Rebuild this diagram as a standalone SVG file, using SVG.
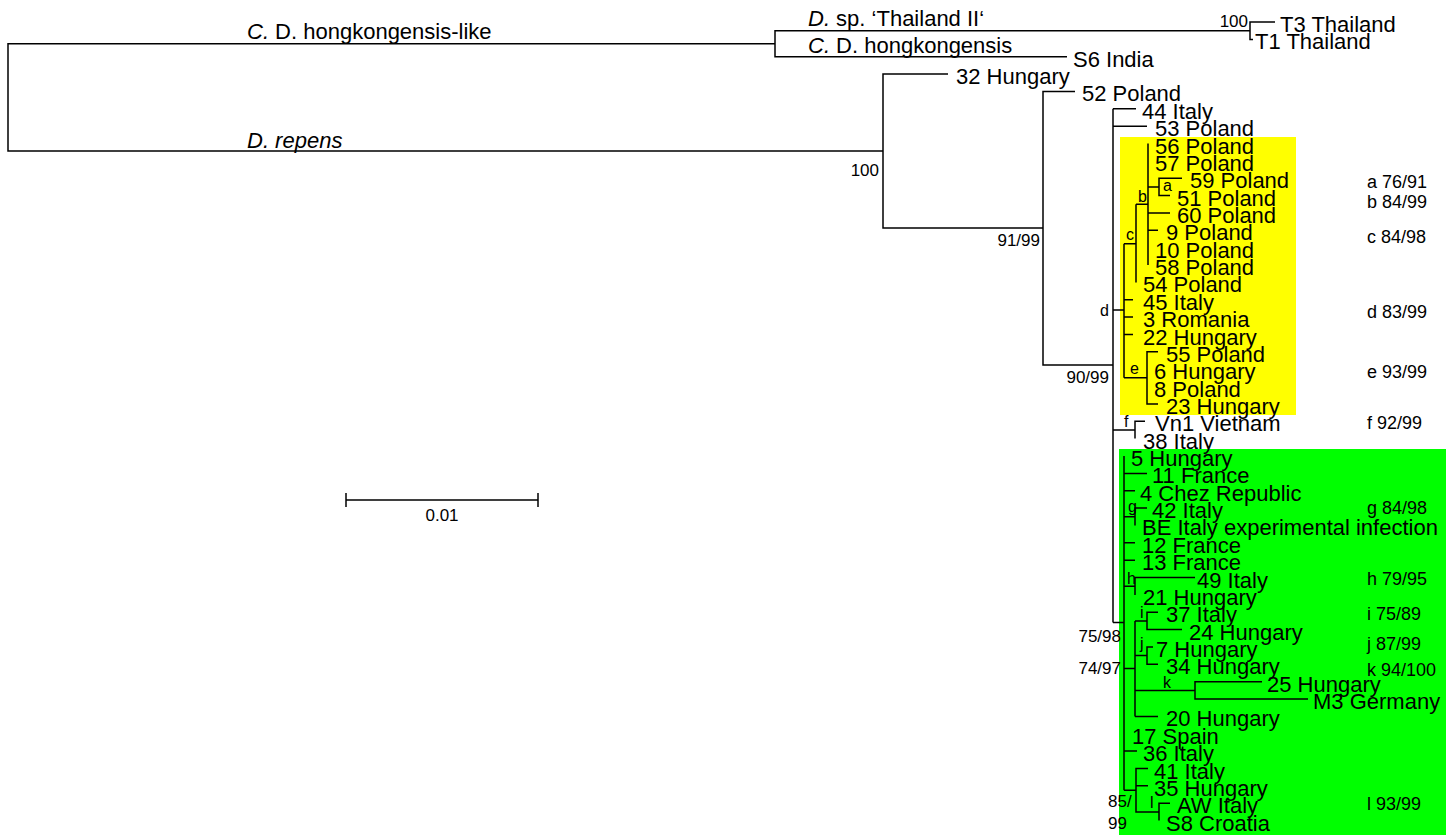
<svg xmlns="http://www.w3.org/2000/svg" width="1452" height="835" viewBox="0 0 1452 835">
<style>
.br{fill:none;stroke:#000;stroke-width:1.5}
text{font-family:"Liberation Sans",Arial,sans-serif;fill:#000}
.lf{font-size:22px}
.bs{font-size:17px}
.nl{font-size:16px}
.rl{font-size:18px}
.it{font-style:italic}
</style>
<rect x="0" y="0" width="1452" height="835" fill="#fff"/>
<g id="highlights">
<rect x="1120" y="137" width="176" height="278" fill="#ffff00"/>
<rect x="1119" y="449" width="327" height="386" fill="#00ff00"/>
</g>
<g id="connectors" class="br">
<path d="M775,43.7 H8 V151 H883"/>
<path d="M1250,30.7 H775 V56.7 H1067"/>
<path d="M1275,22 H1250 V39.4 H1253"/>
<path d="M948,74.1 H883 V228 H1043"/>
<path d="M1075,91.4 H1043 V365 H1113"/>
<path d="M1113,108.8 V622.5 M1113,108.8 H1136 M1113,126.2 H1147 M1113,310 H1124 M1113,430 H1135 M1113,622.5 H1124"/>
<path d="M1124,243.7 V377.8 M1124,243.7 H1136 M1124,299.8 H1133 M1124,317.1 H1133 M1124,334.5 H1133 M1124,377.8 H1147"/>
<path d="M1136,204.3 V282.4 M1136,204.3 H1148"/>
<path d="M1148,143.5 V265 M1148,186.9 H1159 M1148,213 H1170 M1148,230.3 H1158"/>
<path d="M1182,178.2 H1159 V195.6 H1170"/>
<path d="M1158,351.8 H1147 V403.9 H1158"/>
<path d="M1145,421.3 H1135 V438.6"/>
<path d="M1124,456 V790.2 M1124,473.4 H1147 M1124,490.7 H1135 M1124,516.8 H1135 M1124,542.8 H1135 M1124,560.2 H1135 M1124,586.2 H1135 M1124,668.6 H1135 M1124,751.1 H1137 M1124,790.2 H1136"/>
<path d="M1147,508.1 H1135 V525.4"/>
<path d="M1195,577.5 H1135 V594.9"/>
<path d="M1135,620.9 V716.4 M1135,620.9 H1147 M1135,655.6 H1147 M1135,690.4 H1195 M1135,716.4 H1158"/>
<path d="M1158,612.2 H1147 V629.6 H1182"/>
<path d="M1153,647 H1147 V664.3 H1158"/>
<path d="M1262,681.7 H1195 V699 H1308"/>
<path d="M1148,768.5 H1136 V811.9 H1159 M1136,785.8 H1148"/>
<path d="M1170,803.2 H1159 V820.6"/>
</g>
<g id="clade-labels" class="lf">
<text x="247" y="39"><tspan class="it">C.</tspan> D. hongkongensis-like</text>
<text x="247" y="148" class="it">D. repens</text>
<text x="808" y="26"><tspan class="it">D.</tspan> sp. ‘Thailand II‘</text>
<text x="808" y="53"><tspan class="it">C.</tspan> D. hongkongensis</text>
</g>
<g id="n-T3" class="lf"><text x="1280" y="32">T3 Thailand</text></g>
<g id="n-T1" class="lf"><text x="1255" y="49.4">T1 Thailand</text></g>
<g id="n-S6" class="lf"><text x="1073" y="66.7">S6 India</text></g>
<g id="n-32" class="lf"><text x="956" y="84.1">32 Hungary</text></g>
<g id="n-52" class="lf"><text x="1082" y="101.4">52 Poland</text></g>
<g id="n-44" class="lf"><text x="1142" y="118.8">44 Italy</text></g>
<g id="n-53" class="lf"><text x="1155" y="136.2">53 Poland</text></g>
<g id="n-56" class="lf"><text x="1155" y="153.5">56 Poland</text></g>
<g id="n-57" class="lf"><text x="1155" y="170.9">57 Poland</text></g>
<g id="n-59" class="lf"><text x="1190" y="188.2">59 Poland</text></g>
<g id="n-51" class="lf"><text x="1177" y="205.6">51 Poland</text></g>
<g id="n-60" class="lf"><text x="1177" y="223">60 Poland</text></g>
<g id="n-9" class="lf"><text x="1166" y="240.3">9 Poland</text></g>
<g id="n-10" class="lf"><text x="1155" y="257.7">10 Poland</text></g>
<g id="n-58" class="lf"><text x="1155" y="275">58 Poland</text></g>
<g id="n-54" class="lf"><text x="1143" y="292.4">54 Poland</text></g>
<g id="n-45" class="lf"><text x="1143" y="309.8">45 Italy</text></g>
<g id="n-3" class="lf"><text x="1143" y="327.1">3 Romania</text></g>
<g id="n-22" class="lf"><text x="1143" y="344.5">22 Hungary</text></g>
<g id="n-55" class="lf"><text x="1166" y="361.8">55 Poland</text></g>
<g id="n-6" class="lf"><text x="1154" y="379.2">6 Hungary</text></g>
<g id="n-8" class="lf"><text x="1154" y="396.6">8 Poland</text></g>
<g id="n-23" class="lf"><text x="1166" y="413.9">23 Hungary</text></g>
<g id="n-Vn1" class="lf"><text x="1155" y="431.3">Vn1 Vietnam</text></g>
<g id="n-38" class="lf"><text x="1143" y="448.6">38 Italy</text></g>
<g id="n-5" class="lf"><text x="1131" y="466">5 Hungary</text></g>
<g id="n-11" class="lf"><text x="1152" y="483.4">11 France</text></g>
<g id="n-4" class="lf"><text x="1140" y="500.7">4 Chez Republic</text></g>
<g id="n-42" class="lf"><text x="1152" y="518.1">42 Italy</text></g>
<g id="n-BE" class="lf"><text x="1142" y="535.4">BE Italy experimental infection</text></g>
<g id="n-12" class="lf"><text x="1142" y="552.8">12 France</text></g>
<g id="n-13" class="lf"><text x="1142" y="570.2">13 France</text></g>
<g id="n-49" class="lf"><text x="1197" y="587.5">49 Italy</text></g>
<g id="n-21" class="lf"><text x="1143" y="604.9">21 Hungary</text></g>
<g id="n-37" class="lf"><text x="1166" y="622.2">37 Italy</text></g>
<g id="n-24" class="lf"><text x="1189" y="639.6">24 Hungary</text></g>
<g id="n-7" class="lf"><text x="1156" y="657">7 Hungary</text></g>
<g id="n-34" class="lf"><text x="1166" y="674.3">34 Hungary</text></g>
<g id="n-25" class="lf"><text x="1267" y="691.7">25 Hungary</text></g>
<g id="n-M3" class="lf"><text x="1313" y="709">M3 Germany</text></g>
<g id="n-20" class="lf"><text x="1166" y="726.4">20 Hungary</text></g>
<g id="n-17" class="lf"><text x="1132" y="743.8">17 Spain</text></g>
<g id="n-36" class="lf"><text x="1143" y="761.1">36 Italy</text></g>
<g id="n-41" class="lf"><text x="1154" y="778.5">41 Italy</text></g>
<g id="n-35" class="lf"><text x="1154" y="795.8">35 Hungary</text></g>
<g id="n-AW" class="lf"><text x="1177" y="813.2">AW Italy</text></g>
<g id="n-S8" class="lf"><text x="1166" y="830.6">S8 Croatia</text></g>
<g id="bootstrap" class="bs" text-anchor="end">
<text x="1248" y="27">100</text>
<text x="879" y="176">100</text>
<text x="1040" y="246">91/99</text>
<text x="1109" y="383">90/99</text>
<text x="1121" y="642">75/98</text>
<text x="1121" y="674">74/97</text>
</g>
<g id="bootstrap-85" class="bs">
<text x="1108" y="807">85/</text>
<text x="1108" y="829">99</text>
</g>
<g id="node-letters" class="nl">
<text x="1163" y="191">a</text>
<text x="1138" y="202">b</text>
<text x="1126" y="240">c</text>
<text x="1100" y="316">d</text>
<text x="1130" y="374">e</text>
<text x="1124" y="427">f</text>
<text x="1128" y="512">g</text>
<text x="1127" y="584">h</text>
<text x="1140" y="618">i</text>
<text x="1140" y="649">j</text>
<text x="1163" y="688">k</text>
<text x="1150" y="808">l</text>
</g>
<g id="support-legend" class="rl">
<text x="1367" y="188">a 76/91</text>
<text x="1367" y="208">b 84/99</text>
<text x="1367" y="243">c 84/98</text>
<text x="1367" y="318">d 83/99</text>
<text x="1367" y="378">e 93/99</text>
<text x="1367" y="429">f 92/99</text>
<text x="1367" y="514">g 84/98</text>
<text x="1367" y="585">h 79/95</text>
<text x="1367" y="620">i 75/89</text>
<text x="1367" y="650">j 87/99</text>
<text x="1367" y="676">k 94/100</text>
<text x="1367" y="810">l 93/99</text>
</g>
<g id="scale-bar">
<path class="br" d="M346,500 H538 M346,493 V507 M538,493 V507"/>
<text class="bs" x="442" y="521" text-anchor="middle">0.01</text>
</g>
</svg>
